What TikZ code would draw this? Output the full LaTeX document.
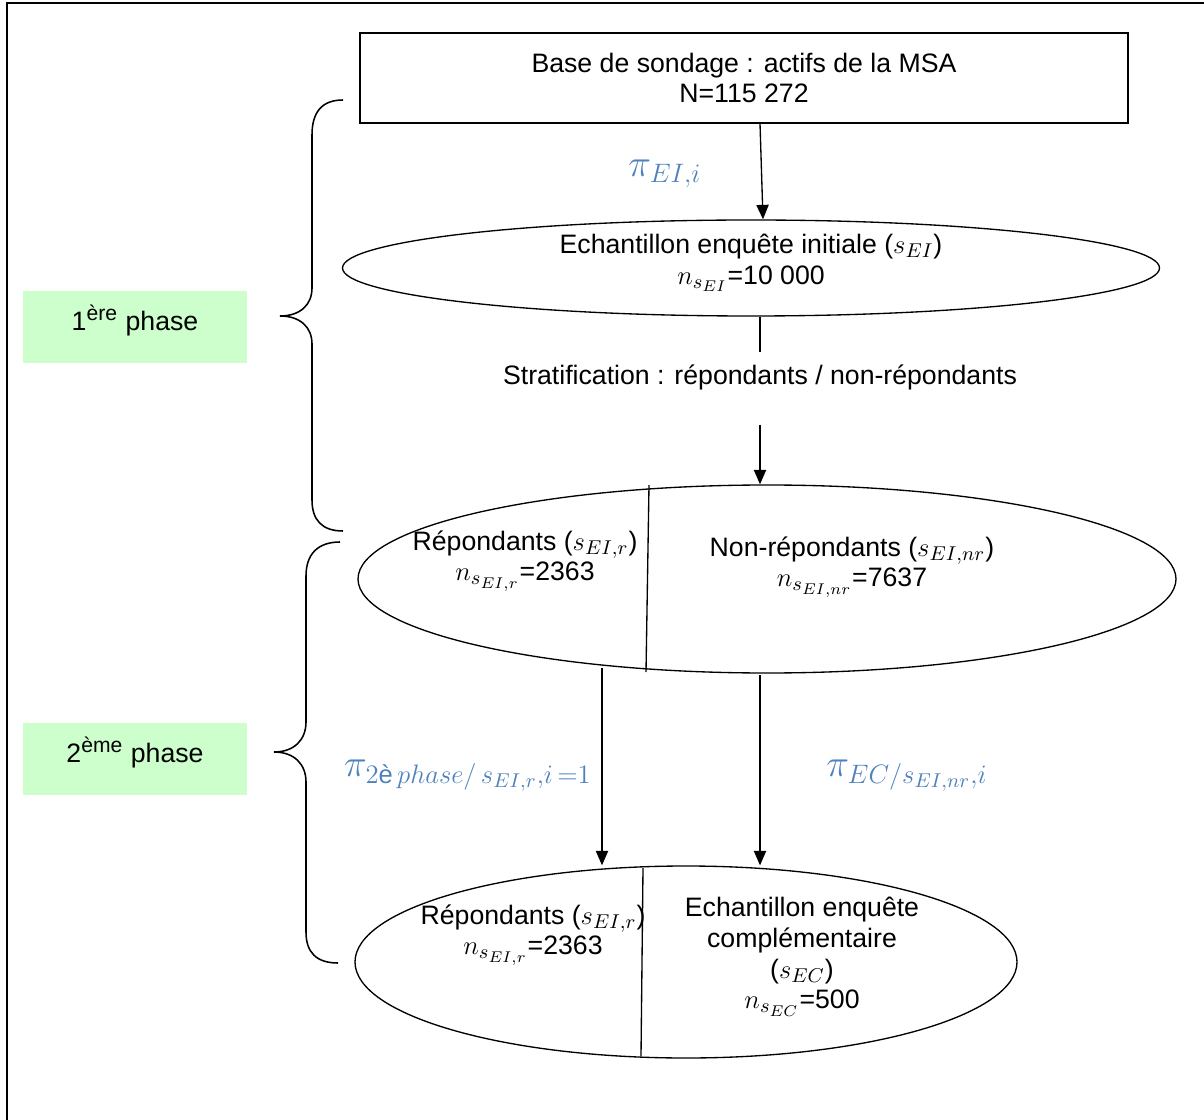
\documentclass[tikz,border=0pt]{standalone}
\usepackage{amsmath}
\usepackage{fontspec}
\setmainfont{Liberation Sans}
\usepackage{tikz}
\usetikzlibrary{positioning}
\usetikzlibrary{arrows.meta}
\usetikzlibrary{shapes.geometric}
\usepackage{xcolor}
\definecolor{piblue}{RGB}{79,129,189}
\definecolor{phasegreen}{RGB}{204,255,204}
\newcommand{\px}{0.45pt}
\DeclareMathSizes{12}{12}{9.5}{7.5}
\DeclareMathSizes{16}{16}{11.5}{9}

\begin{document}
\begin{tikzpicture}[x=\px, y=-\px, font=\fontsize{12}{13.8}\selectfont,
    box/.style={draw, rectangle, line width=0.6pt, minimum width=768*\px, minimum height=90*\px, align=center},
    oval/.style={draw, ellipse, line width=0.6pt, inner sep=0pt},
    txt/.style={align=center, inner sep=0pt},
    pilbl/.style={text=piblue, font=\fontsize{16}{18}\selectfont, inner sep=0pt},
    phasebox/.style={fill=phasegreen, minimum width=224*\px, minimum height=72*\px, text height=9pt, text depth=6pt},
    arr/.style={-{Triangle[width=5.5pt,length=6.5pt]}, line width=0.6pt},
    brace/.style={line width=0.7pt}]
    \useasboundingbox (0,0) rectangle (1204,1120);

    % Frame (only top and left edges show)
    \draw[line width=1pt] (7,1140) -- (7,3) -- (1220,3);

    % Sampling frame and first sample
    \node (base) [box] at (744,78) {Base de sondage : actifs de la MSA\\N=115 272};
    \node (ech) [oval, minimum width=817*\px, minimum height=96*\px] at (751,268) {};
    \node (echtxt) [txt] at (751,263) {Echantillon enquête initiale ($s_{EI}$)\\$n_{s_{EI}}$=10 000};
    \node (piei) [pilbl] at (665,174) {$\pi_{EI,i}$};
    \draw[arr] ([xshift=16*\px]base.south) -- ([xshift=12*\px]ech.north);

    % Stratification
    \node (strat) [txt, minimum height=50*\px] at (760,377) {Stratification : répondants / non-répondants};
    \coordinate (stratend) at (760,425);
    \draw[line width=0.6pt] (strat.north |- ech.south) -- (strat.north);

    % Respondents / non-respondents
    \node (ell2) [oval, minimum width=818*\px, minimum height=188*\px] at (767,579) {};
    \draw[line width=0.6pt] (649,485) -- (646,672);
    \node (rep1) [txt] at (525,561) {Répondants ($s_{EI,r}$)\\$n_{s_{EI,r}}$=2363};
    \node (nrep1) [txt] at (852,567) {Non-répondants ($s_{EI,nr}$)\\$n_{s_{EI,nr}}$=7637};
    \draw[arr] (stratend) -- (stratend |- ell2.north);

    % Second phase sample
    \node (ell3) [oval, minimum width=662*\px, minimum height=192*\px] at (686,962) {};
    \draw[line width=0.6pt] (643,868) -- (641,1056);
    \node (rep2) [txt] at (533,935) {Répondants ($s_{EI,r}$)\\$n_{s_{EI,r}}$=2363};
    \node (ec) [txt] at (802,957) {Echantillon enquête\\complémentaire\\($s_{EC}$)\\$n_{s_{EC}}$=500};

    \coordinate (r1) at (602,668);
    \coordinate (nr1) at (760,675);
    \draw[arr] (r1) -- (r1 |- ell3.north);
    \draw[arr] (nr1) -- (nr1 |- ell3.north);
    \node (pir) [pilbl] at (468,776) {$\pi_{2\text{è}\,phase/\,s_{EI,r},i\,=1}$};
    \node (piec) [pilbl] at (907,776) {$\pi_{EC/s_{EI,nr},i}$};

    % Phases
    \node (ph1) [phasebox] at (135,327) {1\textsuperscript{ère} phase};
    \node (ph2) [phasebox] at (135,759) {2\textsuperscript{ème} phase};
    \draw[brace] (343,100) .. controls (322,100) and (312,112) .. (312,135) -- (312,288)
        .. controls (312,305) and (300,316) .. (280,316)
        .. controls (300,316) and (312,327) .. (312,344) -- (312,500)
        .. controls (312,520) and (322,531) .. (343,531);
    \draw[brace] (340,542) .. controls (318,542) and (306,554) .. (306,576) -- (306,722)
        .. controls (306,740) and (294,752) .. (274,752)
        .. controls (294,752) and (306,764) .. (306,782) -- (306,932)
        .. controls (306,952) and (316,963) .. (338,963);
\end{tikzpicture}
\end{document}
